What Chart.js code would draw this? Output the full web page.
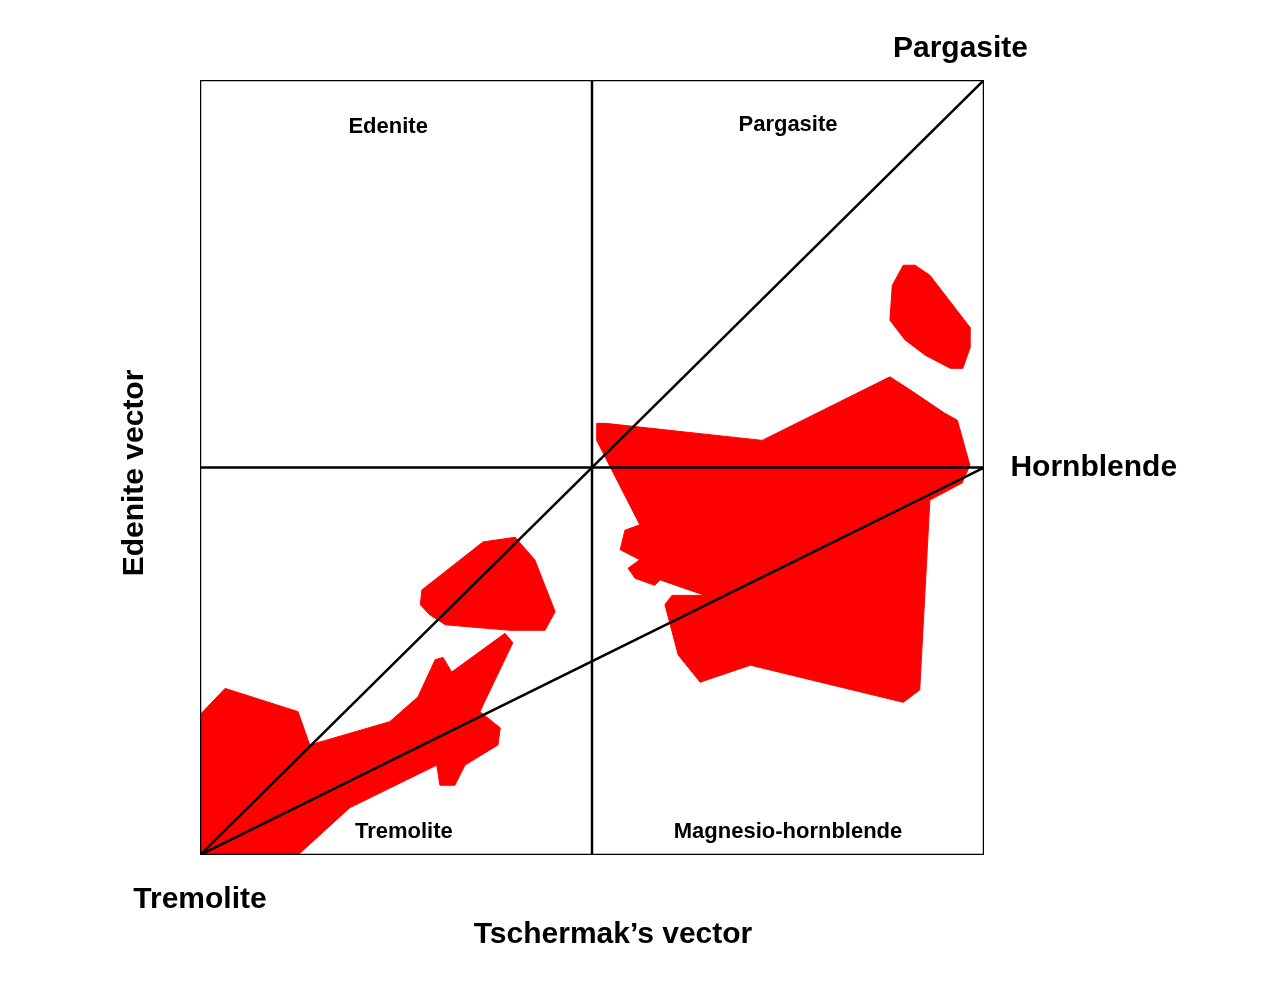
<!DOCTYPE html>
<html><head><meta charset="utf-8">
<script src="https://cdn.jsdelivr.net/npm/chart.js@4/dist/chart.umd.min.js"></script>
<style>html,body{margin:0;background:#fff}canvas{display:block}</style>
</head><body>
<canvas id="c" width="1280" height="984" style="width:1280px;height:984px"></canvas>
<script>
const polyLowX=[0,3.2,12.5,14.0,24.2,27.8,30.0,31.0,32.1,38.9,39.9,35.7,38.3,38.0,33.8,32.5,30.6,30.2,19.1,12.5,0,0];
const polyLowY=[18.1,21.5,18.5,14.2,17.2,20.4,25.2,25.5,23.6,28.6,27.4,18.5,16.4,14.2,11.6,9.0,9.0,11.6,6.1,0,0,18.1];
const polyMidX=[28.3,36.1,40.2,42.7,45.3,44.0,39.5,31.3,29.3,28.1,28.3];
const polyMidY=[34.2,40.4,41.0,38.1,31.4,29.0,29.0,29.7,31.0,32.3,34.2];
const polyBigX=[50.6,51.7,71.7,88.0,90.6,95.0,96.6,98.2,97.2,93.1,91.8,89.7,70.2,63.8,61.0,59.3,60.2,64.4,58.7,58.0,55.5,54.6,56.1,53.6,54.2,56.1,50.6,50.6];
const polyBigY=[55.7,55.7,53.5,61.7,60.0,57.0,56.1,50.3,48.0,45.8,21.3,19.7,24.5,22.3,25.8,32.3,33.5,33.5,35.5,34.8,35.7,37.0,38.1,39.4,41.9,42.6,53.5,55.7];
const polyTopX=[89.7,91.2,93.1,98.2,98.2,97.3,95.7,92.5,89.9,88.0,88.3,89.7];
const polyTopY=[76.1,76.1,74.8,68.1,65.4,62.8,62.8,64.5,66.5,69.0,73.5,76.1];
const innerLabels=[["Edenite",24,94],["Pargasite",75,94.2],["Tremolite",26,3],["Magnesio-hornblende",75,3]];
const outerLabels=[["Pargasite",97,104],["Hornblende",114,50],["Tremolite",0,-5.8]];
const zip=(xs,ys)=>xs.map((x,i)=>({x,y:ys[i]}));
const polyDs=(xs,ys)=>({data:zip(xs,ys),showLine:true,fill:'shape',backgroundColor:'#ff0000',borderColor:'#ff0000',borderWidth:1,pointRadius:0,order:2,tension:0});
const lineDs=(pts)=>({data:pts,showLine:true,fill:false,borderColor:'#000',borderWidth:2.5,pointRadius:0,order:1});
const textPlugin={id:'txt',afterDatasetsDraw(ch){
  const c=ch.ctx,xs=ch.scales.x,ys=ch.scales.y;
  c.save();c.fillStyle='#000';c.textAlign='center';c.textBaseline='middle';
  c.font='bold 22px "Liberation Sans", Arial, sans-serif';
  innerLabels.forEach(([t,x,y])=>c.fillText(t,xs.getPixelForValue(x),ys.getPixelForValue(y)));
  c.font='bold 30px "Liberation Sans", Arial, sans-serif';
  outerLabels.forEach(([t,x,y])=>c.fillText(t,xs.getPixelForValue(x),ys.getPixelForValue(y)));
  c.fillText("Tschermak\u2019s vector",613,935);
  c.translate(135,473);c.rotate(-Math.PI/2);c.fillText("Edenite vector",0,0);
  c.restore();}};
new Chart(document.getElementById('c'),{type:'scatter',
 data:{datasets:[polyDs(polyLowX,polyLowY),polyDs(polyMidX,polyMidY),polyDs(polyBigX,polyBigY),polyDs(polyTopX,polyTopY),
  lineDs([{x:0,y:0},{x:100,y:0},{x:100,y:100},{x:0,y:100},{x:0,y:0}]),
  lineDs([{x:0,y:0},{x:100,y:100}]),lineDs([{x:0,y:0},{x:100,y:50}]),
  lineDs([{x:0,y:50},{x:100,y:50}]),lineDs([{x:50,y:0},{x:50,y:100}])]},
 options:{responsive:false,animation:false,layout:{padding:{left:200,right:296,top:80,bottom:129}},
  plugins:{legend:{display:false},tooltip:{enabled:false}},
  scales:{x:{type:'linear',min:0,max:100,display:false},y:{type:'linear',min:0,max:100,display:false}}},
 plugins:[textPlugin]});
</script></body></html>
